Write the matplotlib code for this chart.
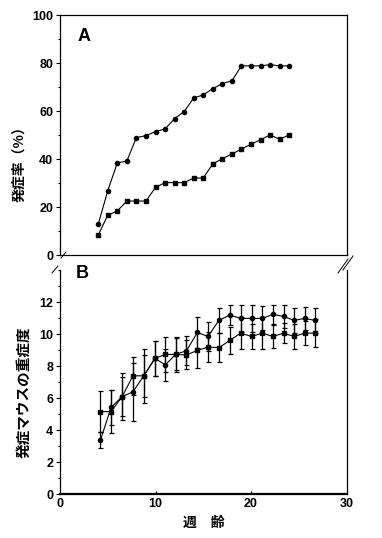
import matplotlib
matplotlib.use("Agg")
import matplotlib.pyplot as plt
from matplotlib.lines import Line2D
from matplotlib.ticker import MultipleLocator
from matplotlib.font_manager import FontProperties

plt.rcParams['font.family'] = ['Liberation Sans', 'Noto Sans CJK JP', 'DejaVu Sans']

# ---- Panel A data: onset rate (%) by week of age ----
weeks_a = [4, 5, 6, 7, 8, 9, 10, 11, 12, 13, 14, 15, 16, 17, 18, 19, 20, 21, 22, 23, 24]
rate_circle = [12.8, 26.8, 38.4, 39.2, 49.0, 49.8, 51.5, 52.6, 56.9, 59.8, 65.5,
               66.8, 69.4, 71.5, 72.7, 78.9, 78.9, 78.9, 79.4, 78.9, 78.9]
rate_square = [8.3, 16.6, 18.4, 22.5, 22.5, 22.5, 28.2, 30.2, 30.2, 30.2, 32.1,
               32.1, 38.0, 40.2, 42.1, 44.2, 46.2, 48.1, 50.1, 48.3, 50.1]

# ---- Panel B data: severity of affected mice ----
weeks_b = [4.23, 5.35, 6.51, 7.63, 8.78, 9.94, 11.03, 12.11, 13.24, 14.39, 15.50,
           16.63, 17.78, 18.91, 20.06, 21.18, 22.30, 23.42, 24.51, 25.63, 26.71]
sev_circle = [3.37, 5.42, 6.10, 6.39, 7.40, 8.48, 8.08, 8.73, 8.96, 10.10, 9.85,
              10.85, 11.19, 10.98, 10.98, 10.98, 11.23, 11.10, 10.85, 10.98, 10.85]
err_circle = [0.50, 1.10, 1.20, 1.79, 1.30, 1.10, 1.00, 1.00, 0.90, 0.96, 0.88,
              0.80, 0.64, 0.85, 0.85, 0.75, 0.60, 0.73, 0.77, 0.70, 0.77]
sev_square = [5.16, 5.16, 6.10, 7.39, 7.40, 8.48, 8.73, 8.73, 8.70, 8.98, 9.19,
              9.15, 9.60, 10.06, 9.85, 10.06, 9.85, 10.06, 9.85, 10.06, 10.06]
err_square = [1.30, 1.33, 1.45, 1.17, 1.70, 1.10, 1.08, 1.10, 0.90, 1.10, 0.96,
              0.92, 0.83, 0.98, 0.80, 1.00, 0.70, 0.63, 0.75, 0.73, 0.87]

W, H = 382, 538
fig = plt.figure(figsize=(W / 100, H / 100), dpi=100)

def fx(px):
    return px / W

def fy(py):
    return 1 - py / H

left, right = 60, 346.5
axA = fig.add_axes([fx(left), fy(255), fx(right) - fx(left), fy(15.3) - fy(255)])
axB = fig.add_axes([fx(left), fy(494.3), fx(right) - fx(left), fy(270) - fy(494.3)])

tick_fp = FontProperties(family='Liberation Sans', weight='bold', size=9)
cjk = ['Noto Sans CJK JP', 'DejaVu Sans']

# Panel A
axA.plot(weeks_a, rate_circle, color='black', lw=0.8, marker='o', ms=3.0)
axA.plot(weeks_a, rate_square, color='black', lw=0.8, marker='s', ms=3.4)
axA.set_xlim(0, 30)
axA.set_ylim(0, 100)
axA.set_xticks([])
axA.yaxis.set_major_locator(MultipleLocator(20))
axA.yaxis.set_minor_locator(MultipleLocator(10))
axA.tick_params(axis='y', which='major', direction='out', length=3, width=0.8, pad=2)
axA.tick_params(axis='y', which='minor', direction='out', length=1.5, width=0.8)
for lab in axA.get_yticklabels():
    lab.set_fontproperties(tick_fp)
for s in axA.spines.values():
    s.set_linewidth(0.9)
axA.set_ylabel('発症率（%）', family=cjk, weight='bold', fontsize=10)
axA.yaxis.set_label_coords(-0.119, 0.396)
fig.text(fx(78), fy(28), 'A', family='Liberation Sans', weight='bold', fontsize=13,
         ha='left', va='top')

# Panel B
axB.errorbar(weeks_b, sev_circle, yerr=err_circle, color='black', lw=0.8,
             marker='o', ms=3.0, capsize=1.8, elinewidth=0.9, capthick=0.9)
axB.errorbar(weeks_b, sev_square, yerr=err_square, color='black', lw=0.8,
             marker='s', ms=3.4, capsize=1.8, elinewidth=0.9, capthick=0.9)
axB.set_xlim(0, 30)
axB.set_ylim(0, 14)
axB.set_xticks([0, 10, 20, 30])
axB.set_yticks([0, 2, 4, 6, 8, 10, 12])
axB.yaxis.set_minor_locator(MultipleLocator(1))
axB.tick_params(axis='y', which='major', direction='out', length=3, width=0.8, pad=2)
axB.tick_params(axis='y', which='minor', direction='out', length=1.5, width=0.8)
axB.tick_params(axis='x', which='major', direction='in', length=2, width=0.8, pad=3)
for lab in axB.get_yticklabels() + axB.get_xticklabels():
    lab.set_fontproperties(tick_fp)
axB.spines['top'].set_visible(False)
axB.spines['left'].set_linewidth(0.9)
axB.spines['right'].set_linewidth(0.9)
axB.spines['bottom'].set_linewidth(1.6)
axB.set_ylabel('発症マウスの重症度', family=cjk, weight='bold', fontsize=10.5)
axB.yaxis.set_label_coords(-0.101, 0.456)
axB.set_xlabel('週　齢', family=cjk, weight='bold', fontsize=10)
axB.xaxis.set_label_coords(0.503, -0.097)
fig.text(fx(76), fy(265), 'B', family='Liberation Sans', weight='bold', fontsize=13,
         ha='left', va='top')

# axis break marks
def seg(x0, y0, x1, y1):
    fig.add_artist(Line2D([fx(x0), fx(x1)], [fy(y0), fy(y1)], color='black', lw=0.7))

seg(61, 258, 66, 252)
seg(52, 273, 58, 266)
seg(338, 273, 348, 259)
seg(343, 270, 353, 256)

fig.savefig('out.png', dpi=100)
